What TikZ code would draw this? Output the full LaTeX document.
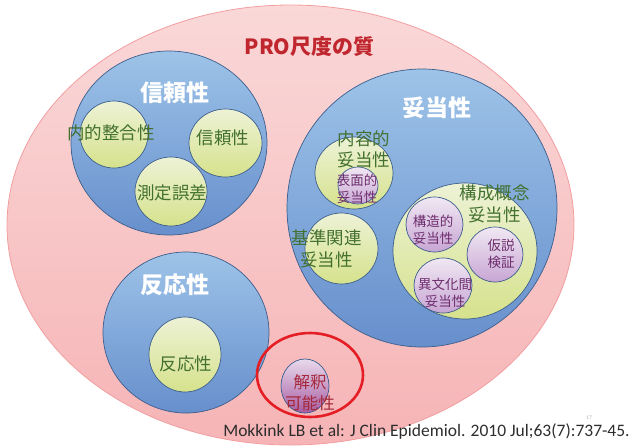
\documentclass[tikz,border=0pt]{standalone}
\usepackage{fontspec}
\setmainfont{Carlito}
\newfontfamily\jp{Noto Sans CJK JP}
\usetikzlibrary{shapes.geometric}
\definecolor{pinkT}{RGB}{250,216,216}
\definecolor{pinkB}{RGB}{246,180,182}
\definecolor{pinkE}{RGB}{242,158,160}
\definecolor{blueT}{RGB}{157,195,232}
\definecolor{blueB}{RGB}{103,143,204}
\definecolor{edgeC}{RGB}{60,94,140}
\definecolor{greenT}{RGB}{237,242,214}
\definecolor{greenB}{RGB}{214,226,140}
\definecolor{purpT}{RGB}{240,232,243}
\definecolor{purpB}{RGB}{200,166,212}
\definecolor{magT}{RGB}{232,218,236}
\definecolor{magB}{RGB}{168,92,162}
\definecolor{txtG}{RGB}{66,112,46}
\definecolor{txtP}{RGB}{110,45,110}
\definecolor{txtR}{RGB}{165,40,58}
\definecolor{titleR}{RGB}{192,38,45}
\definecolor{ringR}{RGB}{228,30,36}
\definecolor{citeC}{RGB}{45,45,45}
\begin{document}
\begin{tikzpicture}[x=1pt,y=-1pt,
  blob/.style={ellipse,inner sep=0pt,draw=edgeC,line width=0.7pt},
  outer/.style={ellipse,inner sep=0pt,draw=pinkE,line width=0.8pt,top color=pinkT,bottom color=pinkB},
  bluec/.style={blob,top color=blueT,bottom color=blueB},
  greenc/.style={blob,top color=greenT,bottom color=greenB},
  purpc/.style={blob,top color=purpT,bottom color=purpB},
  magc/.style={blob,top color=magT,bottom color=magB},
  ring/.style={ellipse,inner sep=0pt,draw=ringR,line width=2.6pt},
  ttl/.style={inner sep=0pt,font=\jp\bfseries\fontsize{21}{24}\selectfont,text=titleR},
  wt/.style={inner sep=0pt,font=\jp\bfseries\fontsize{23}{26}\selectfont,text=white},
  gt/.style={inner sep=0pt,align=center,font=\jp\fontsize{17.5}{21.5}\selectfont,text=txtG},
  pt/.style={inner sep=0pt,align=center,font=\jp\fontsize{13.5}{17}\selectfont,text=txtP},
  rt/.style={inner sep=0pt,align=center,font=\jp\fontsize{16.5}{21}\selectfont,text=txtR},
  cite/.style={inner sep=0pt,font=\fontsize{17.5}{20}\selectfont,text=citeC}]
\useasboundingbox (0,0) rectangle (632,445);
% outer
\node[outer,minimum width=567pt,minimum height=440pt] (pro) at (290.5,225) {};
% blue groups
\node[bluec,minimum width=196pt,minimum height=184pt] (rel) at (169,143) {};
\node[bluec,minimum width=270pt,minimum height=278pt] (val) at (422,208) {};
\node[bluec,minimum width=166pt,minimum height=161pt] (resp) at (186,332.5) {};
% green
\node[greenc,minimum width=68pt,minimum height=67pt] (g1) at (114,134.5) {};
\node[greenc,minimum width=73pt,minimum height=68pt] (g2) at (225.5,143) {};
\node[greenc,minimum width=72pt,minimum height=69pt] (g3) at (171,191.5) {};
\node[greenc,minimum width=78pt,minimum height=72pt] (g4) at (354,173) {};
\node[greenc,minimum width=73pt,minimum height=71pt] (g5) at (341.5,248.5) {};
\node[greenc,minimum width=144pt,minimum height=136pt] (g6) at (465,251) {};
\node[greenc,minimum width=72pt,minimum height=75pt] (g7) at (185,354.5) {};
% purple
\node[purpc,minimum width=40pt,minimum height=37pt] (p1) at (358,185.5) {};
\node[purpc,minimum width=57pt,minimum height=55pt] (p2) at (434.5,224.5) {};
\node[purpc,minimum width=56pt,minimum height=55pt] (p3) at (495,254.5) {};
\node[purpc,minimum width=58pt,minimum height=55pt] (p4) at (443,285.5) {};
\node[magc,minimum width=48pt,minimum height=54pt] (p5) at (305,386) {};
\node[ring,minimum width=106pt,minimum height=84pt] (r5) at (310,375) {};
% titles
\node[ttl] (t0) at (309.5,47) {PRO尺度の質};
\node[wt] (t1) at (175,93) {信頼性};
\node[wt] (t2) at (437,108) {妥当性};
\node[wt] (t3) at (175,285) {反応性};
% green labels
\node[gt] (l1) at (111,133) {内的整合性};
\node[gt] (l2) at (223,138) {信頼性};
\node[gt] (l3) at (172,193) {測定誤差};
\node[gt] (l4) at (364,149.5) {内容的\\妥当性};
\node[gt] (l5) at (326.5,249) {基準関連\\妥当性};
\node[gt] (l6) at (494.5,204) {構成概念\\妥当性};
\node[gt] (l7) at (186,364) {反応性};
% purple labels
\node[pt] (m1) at (357,188.5) {表面的\\妥当性};
\node[pt] (m2) at (433,230) {構造的\\妥当性};
\node[pt] (m3) at (501,254) {仮説\\検証};
\node[pt] (m4) at (445,292.5) {異文化間\\妥当性};
\node[rt] (m5) at (310,392.5) {解釈\\可能性};
% citation
\node[cite] (c) at (426.5,432) {Mokkink LB et al: J Clin Epidemiol. 2010 Jul;63(7):737-45.};
\node[inner sep=0pt,font=\fontsize{5.5}{6}\selectfont,text=black!30] (pg) at (589,417.5) {17};
\end{tikzpicture}
\end{document}
